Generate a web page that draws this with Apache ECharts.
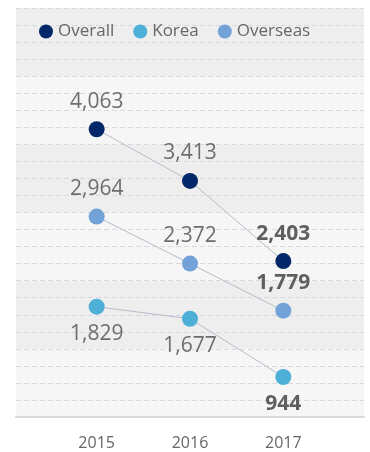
<!DOCTYPE html>
<html>
<head>
<meta charset="utf-8">
<script src="https://cdn.jsdelivr.net/npm/echarts@6/dist/echarts.min.js"></script>
<style>
html,body{margin:0;padding:0;background:#ffffff;}
#chart{width:370px;height:452px;}
</style>
</head>
<body>
<div id="chart"></div>
<script>
const categories = ['2015', '2016', '2017'];
const seriesNames = ['Overall', 'Korea', 'Overseas'];
const overallValues = [4063, 3413, 2403];
const koreaValues = [1829, 1677, 944];
const overseasValues = [2964, 2372, 1779];

const FONT = '"Open Sans", "Noto Sans", sans-serif';
const colors = { Overall: '#03286a', Korea: '#4eb0d7', Overseas: '#72a2d7' };

function fmt(v) {
  return String(v).replace(/\B(?=(\d{3})+(?!\d))/g, ',');
}

function makeData(values) {
  return values.map((v, i) => {
    if (i === values.length - 1) {
      return { value: v, label: { fontWeight: 'bold', color: '#5f5f5f' } };
    }
    return v;
  });
}

function makeSeries(name, values, labelPos) {
  return {
    name: name,
    type: 'line',
    xAxisIndex: 2,
    yAxisIndex: 2,
    data: makeData(values),
    symbol: 'circle',
    symbolSize: 16,
    itemStyle: { color: colors[name] },
    lineStyle: { color: '#b9bdca', width: 1 },
    label: {
      show: true,
      position: labelPos,
      distance: 9,
      fontFamily: FONT,
      fontSize: 21,
      color: '#6e6e6e',
      formatter: p => fmt(p.value)
    },
    emphasis: { disabled: true },
    animation: false
  };
}

const chart = echarts.init(document.getElementById('chart'), null, { renderer: 'canvas' });
chart.setOption({
  backgroundColor: '#ffffff',
  animation: false,
  legend: {
    data: seriesNames,
    left: 34,
    top: 18,
    icon: 'circle',
    itemWidth: 14,
    itemHeight: 14,
    itemGap: 19,
    textStyle: { fontFamily: FONT, fontSize: 17, color: '#666666' },
    selectedMode: false
  },
  grid: [
    { left: 16, right: 6, top: 8, bottom: 35 },
    { left: 50, right: 40, top: 8, bottom: 35 }
  ],
  xAxis: [
    {
      gridIndex: 0, type: 'value', min: 0, max: 1, position: 'bottom',
      axisLine: { show: true, lineStyle: { color: '#b3b7c3', width: 1.5 } },
      axisTick: { show: false }, axisLabel: { show: false }, splitLine: { show: false }
    },
    {
      gridIndex: 0, type: 'value', min: 0, max: 1, position: 'top',
      axisLine: { show: true, lineStyle: { color: '#dedede', width: 1.5 } },
      axisTick: { show: false }, axisLabel: { show: false }, splitLine: { show: false }
    },
    {
      gridIndex: 1, type: 'category', data: categories, boundaryGap: true,
      axisLine: { show: false }, axisTick: { show: false },
      axisLabel: { fontFamily: FONT, fontSize: 16, color: '#666666', margin: 18 },
      splitLine: { show: false }
    }
  ],
  yAxis: [
    {
      gridIndex: 0, type: 'value', min: 0, max: 24, interval: 1,
      axisLine: { show: false }, axisTick: { show: false }, axisLabel: { show: false },
      splitLine: { show: true, lineStyle: { color: '#d9d9e0', width: 1, type: [5, 3] } },
      splitArea: { show: false }, z: 1
    },
    {
      gridIndex: 0, type: 'value', min: 0, max: 6, interval: 1,
      axisLine: { show: false }, axisTick: { show: false }, axisLabel: { show: false },
      splitLine: { show: false },
      splitArea: { show: true, areaStyle: { color: ['#f6f6f6', '#eeeeee'] } }, z: 0
    },
    {
      gridIndex: 1, type: 'value', min: 440, max: 5590,
      axisLine: { show: false }, axisTick: { show: false }, axisLabel: { show: false },
      splitLine: { show: false }, splitArea: { show: false }
    }
  ],
  series: [
    makeSeries('Overall', overallValues, 'top'),
    makeSeries('Korea', koreaValues, 'bottom'),
    makeSeries('Overseas', overseasValues, 'top')
  ]
});
</script>
</body>
</html>
